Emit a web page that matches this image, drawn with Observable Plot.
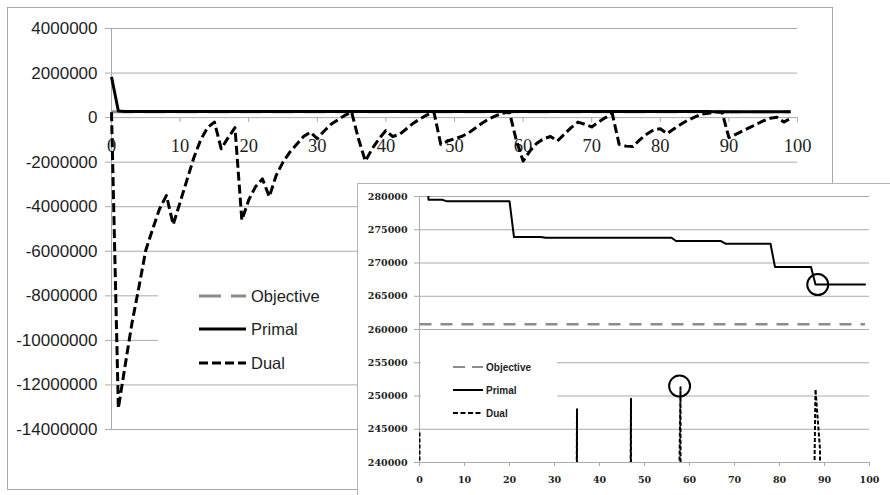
<!DOCTYPE html>
<html><head><meta charset="utf-8">
<script src="https://cdn.jsdelivr.net/npm/d3@7"></script>
<script src="https://cdn.jsdelivr.net/npm/@observablehq/plot@0.6"></script>
<style>
html,body{margin:0;padding:0;background:#fff}
#wrap{position:relative;width:890px;height:495px;overflow:hidden;background:#fff}
#main{position:absolute;left:0;top:0;width:840px;height:495px}
#mainBorder{position:absolute;left:7px;top:7px;width:826px;height:483px;border:1px solid #a9a9a9;box-sizing:border-box;pointer-events:none}
#mainLegend{position:absolute;left:158px;top:262px;width:199px;height:116px;background:#fff}
#inset{position:absolute;left:357px;top:183px;width:560px;height:340px;background:#fff;border-left:1px solid #b3b3b3;border-top:1px solid #b3b3b3;box-sizing:border-box}
#insetPlot{position:absolute;left:0;top:0;width:532px;height:311px}
#insetLegend{position:absolute;left:63px;top:151px;width:136px;height:87px;background:#fff}
svg{display:block}
</style></head>
<body>
<div id="wrap">
  <div id="main"></div>
  <div id="mainBorder"></div>
  <div id="mainLegend"></div>
  <div id="inset">
    <div id="insetPlot"></div>
    <div id="insetLegend"></div>
  </div>
</div>
<script>
// ---------- data ----------
const iterations = d3.range(0, 100);
const objective = 260800;
const primal = [
  1830000, 295000, 279500, 279500, 279500, 279500, 279300, 279300, 279300, 279300,
  279300, 279300, 279300, 279300, 279300, 279300, 279300, 279300, 279300, 279300,
  279300, 273900, 273900, 273900, 273900, 273900, 273900, 273900, 273800, 273800,
  273800, 273800, 273800, 273800, 273800, 273800, 273800, 273800, 273800, 273800,
  273800, 273800, 273800, 273800, 273800, 273800, 273800, 273800, 273800, 273800,
  273800, 273800, 273800, 273800, 273800, 273800, 273800, 273300, 273300, 273300,
  273300, 273300, 273300, 273300, 273300, 273300, 273300, 273300, 272900, 272900,
  272900, 272900, 272900, 272900, 272900, 272900, 272900, 272900, 272900, 269400,
  269400, 269400, 269400, 269400, 269400, 269400, 269400, 269400, 266750, 266750,
  266750, 266750, 266750, 266750, 266750, 266750, 266750, 266750, 266750, 266750
];
const dual = [
  244500, -13050000, -11100000, -9200000, -7600000, -5950000, -5000000, -4100000, -3500000, -4800000,
  -3800000, -2800000, -1800000, -1000000, -450000, -200000, -1400000, -900000, -450000, -4600000,
  -3700000, -3100000, -2750000, -3550000, -2600000, -2000000, -1550000, -1200000, -850000, -650000,
  -950000, -600000, -300000, -100000, 100000, 248000, -950000, -1950000, -1400000, -950000,
  -580000, -850000, -750000, -500000, -250000, -50000, 120000, 249600, -1200000, -1050000,
  -950000, -850000, -700000, -480000, -250000, -60000, 80000, 200000, 251300, -1000000,
  -1950000, -1500000, -1150000, -950000, -850000, -1050000, -750000, -450000, -200000, -300000,
  -420000, -200000, 0, 180000, -1200000, -1280000, -1300000, -1000000, -750000, -550000,
  -500000, -720000, -500000, -300000, -120000, 20000, 150000, 200000, 251000, 242000,
  -900000, -750000, -600000, -450000, -300000, -150000, -30000, 20000, -200000, -30000
];
const mainYTicks = [4000000, 2000000, 0, -2000000, -4000000, -6000000, -8000000, -10000000, -12000000, -14000000];
const mainXTicks = [0, 10, 20, 30, 40, 50, 60, 70, 80, 90, 100];
const insetYTicks = [280000, 275000, 270000, 265000, 260000, 255000, 250000, 245000, 240000];
const insetXTicks = [0, 10, 20, 30, 40, 50, 60, 70, 80, 90, 100];
const highlightX = [57.8, 88.5];
const highlightY = [251500, 266750];
const legendLabels = ["Objective", "Primal", "Dual"];

const primalData = iterations.map(i => ({i, v: primal[i]}));
const dualData = iterations.map(i => ({i, v: dual[i]}));
const objData = iterations.map(i => ({i, v: objective}));
const circles = highlightX.map((x, k) => ({x, y: highlightY[k]}));

const GRID = "#ababab";
const TEXT = "#1e1e1e";

// ---------- main chart ----------
const mainPlot = Plot.plot({
  width: 840, height: 495,
  marginLeft: 111, marginRight: 43, marginTop: 28, marginBottom: 66,
  x: {domain: [0, 100], axis: null, label: null},
  y: {domain: [-14000000, 4000000], label: null},
  style: {background: "transparent", fontFamily: "Liberation Sans, Arial, sans-serif", fontSize: "17px", color: TEXT},
  marks: [
    Plot.gridY(mainYTicks, {stroke: GRID, strokeOpacity: 1}),
    Plot.ruleX([0], {stroke: GRID}),
    Plot.axisY(mainYTicks, {tickSize: 6, tickPadding: 8, stroke: GRID, fill: TEXT, label: null, tickFormat: d => String(d)}),
    Plot.ruleX(mainXTicks, {x: d => d, y1: () => 0, y2: () => 0, insetBottom: -5, stroke: GRID}),
    Plot.text(mainXTicks, {x: d => d, y: () => 0, dy: 28, text: d => String(d),
      fontFamily: "Liberation Serif, Times New Roman, serif", fontSize: 18.5, fill: TEXT}),
    Plot.line(objData, {x: "i", y: "v", stroke: "#8c8c8c", strokeWidth: 3, strokeDasharray: "22,10", strokeLinecap: "butt"}),
    Plot.line(primalData, {x: "i", y: "v", stroke: "#000", strokeWidth: 3, strokeLinecap: "butt"}),
    Plot.line(dualData, {x: "i", y: "v", stroke: "#000", strokeWidth: 3, strokeDasharray: "9,4", strokeLinecap: "butt"})
  ]
});
document.getElementById("main").appendChild(mainPlot);

// ---------- inset chart ----------
const insetPlot = Plot.plot({
  width: 532, height: 311,
  marginLeft: 61, marginRight: 21, marginTop: 12, marginBottom: 33,
  x: {domain: [0, 100], label: null},
  y: {domain: [240000, 280000], label: null},
  style: {background: "#fff", fontFamily: "DejaVu Serif, serif", fontSize: "9.5px", fontWeight: "bold", color: TEXT},
  marks: [
    Plot.gridY(insetYTicks, {stroke: GRID, strokeOpacity: 1}),
    Plot.ruleX([0], {stroke: GRID}),
    Plot.axisY(insetYTicks, {tickSize: 5, tickPadding: 7, stroke: GRID, fill: TEXT, label: null, tickFormat: d => String(d)}),
    Plot.axisX(insetXTicks, {tickSize: 4, tickPadding: 10, stroke: GRID, fill: TEXT, label: null, tickFormat: d => String(d)}),
    Plot.line(objData, {x: "i", y: "v", stroke: "#8c8c8c", strokeWidth: 2.5, strokeDasharray: "12,9", strokeLinecap: "butt", clip: true}),
    Plot.line(primalData, {x: "i", y: "v", stroke: "#000", strokeWidth: 2, clip: true}),
    Plot.line(dualData, {x: "i", y: "v", stroke: "#000", strokeWidth: 2, strokeDasharray: "4,2", strokeLinecap: "butt", clip: true}),
    Plot.dot(circles, {x: "x", y: "y", r: 10.5, stroke: "#000", strokeWidth: 2, fill: "none"})
  ]
});
document.getElementById("insetPlot").appendChild(insetPlot);

// ---------- legends ----------
function legend(el, w, h, styles, o) {
  const svg = d3.select(el).append("svg").attr("width", w).attr("height", h);
  legendLabels.forEach((label, k) => {
    const y = o.rowY[k];
    svg.append("line").attr("x1", o.x1).attr("x2", o.x2).attr("y1", y).attr("y2", y)
      .attr("stroke", styles[k].color).attr("stroke-width", o.width)
      .attr("stroke-dasharray", styles[k].dash || null);
    svg.append("text").attr("x", o.tx).attr("y", y).attr("dy", "0.35em")
      .attr("fill", TEXT).style("font", o.font).text(label);
  });
}
legend("#mainLegend", 199, 116,
  [{color: "#8c8c8c", dash: "22,10"}, {color: "#000"}, {color: "#000", dash: "9,4"}],
  {rowY: [34, 67, 101], x1: 41, x2: 88, tx: 93, width: 3, font: "16.5px 'Liberation Sans', Arial, sans-serif"});
legend("#insetLegend", 136, 87,
  [{color: "#8c8c8c", dash: "12,7"}, {color: "#000"}, {color: "#000", dash: "5,2.5"}],
  {rowY: [32, 55, 78], x1: 32, x2: 62, tx: 65, width: 2, font: "bold 10px 'Liberation Sans', Arial, sans-serif"});
</script>
</body></html>
